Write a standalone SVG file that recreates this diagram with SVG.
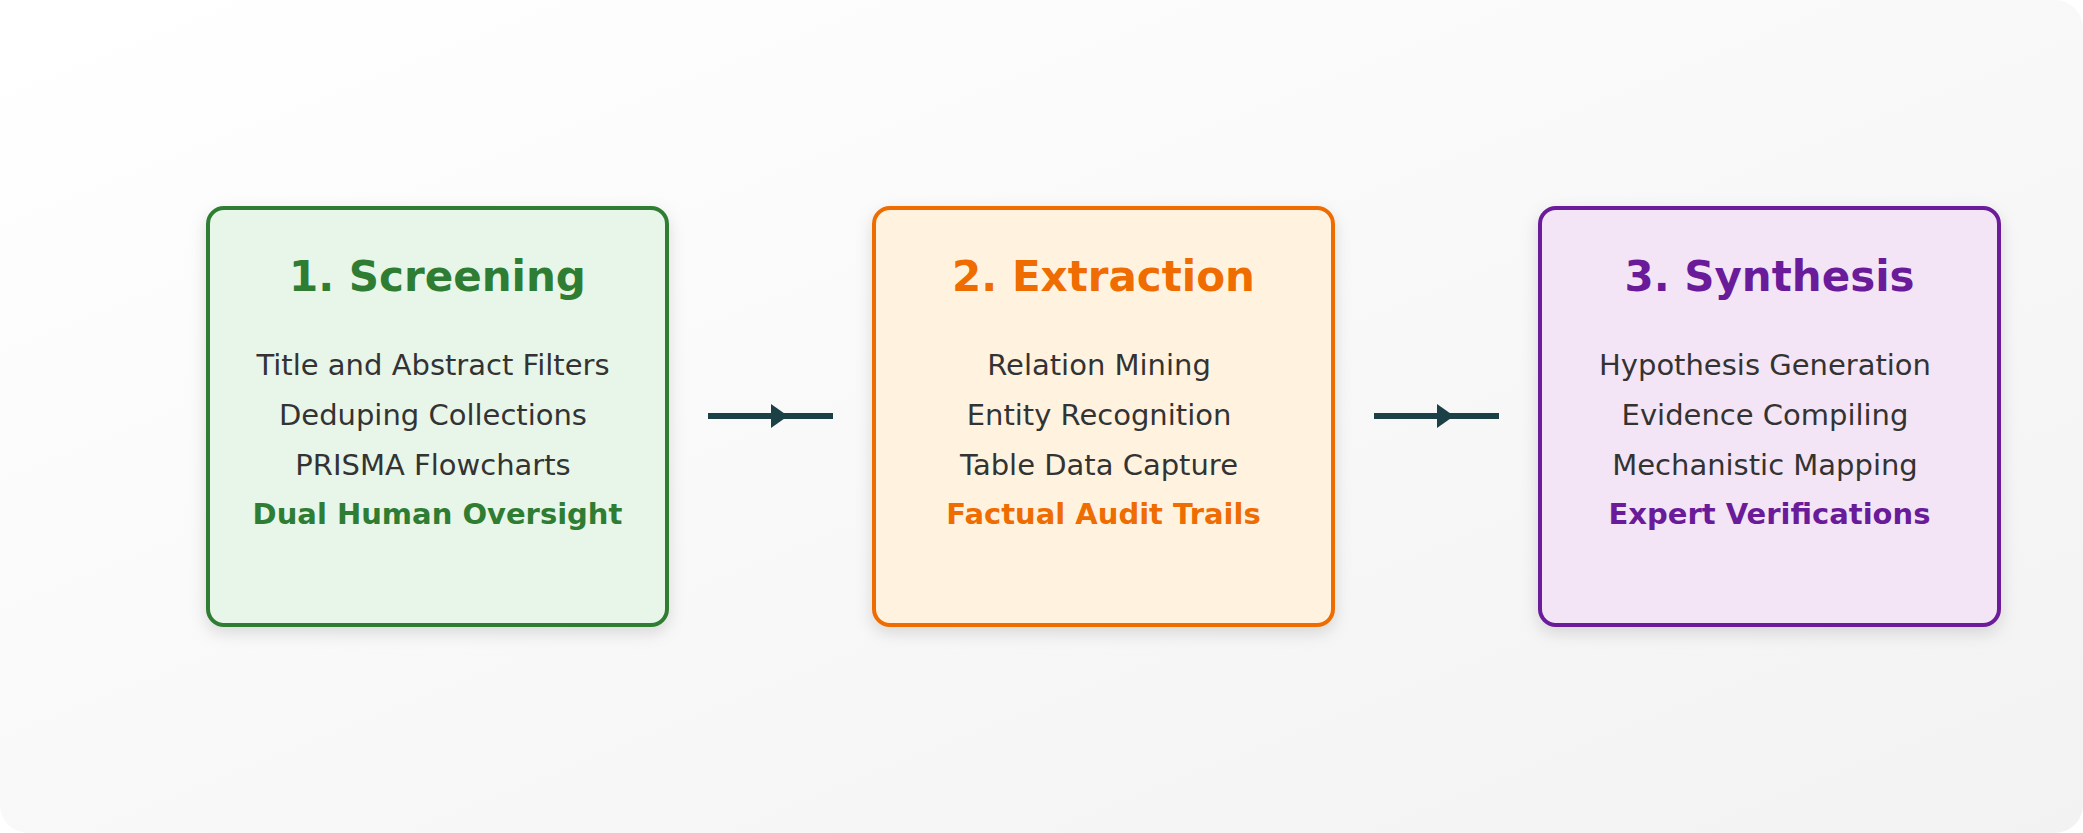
<svg xmlns="http://www.w3.org/2000/svg" width="2083" height="833" viewBox="0 0 2083 833">
<style>
.box{stroke-width:4}
.title{font-family:"DejaVu Sans",Verdana,sans-serif;font-weight:bold;font-size:42px;text-anchor:middle}
.item{font-family:"DejaVu Sans",Verdana,sans-serif;font-size:29px;fill:#333333;text-anchor:middle}
.key{font-family:"DejaVu Sans",Verdana,sans-serif;font-weight:bold;font-size:29px;text-anchor:middle}
.conn{stroke:#1b4045;stroke-width:6;fill:none;marker-mid:url(#arrow)}
</style>
<defs>
<linearGradient id="bg" x1="0" y1="0" x2="1" y2="1">
<stop offset="0" stop-color="#ffffff"/>
<stop offset="1" stop-color="#f2f2f2"/>
</linearGradient>
<filter id="shadow" x="-20%" y="-20%" width="140%" height="150%">
<feDropShadow dx="0" dy="6" stdDeviation="8" flood-color="#000" flood-opacity="0.13"/>
</filter>
<marker id="arrow" markerUnits="userSpaceOnUse" markerWidth="20" markerHeight="28" refX="0" refY="12" orient="auto" viewBox="0 0 20 24">
<path d="M0,0 L17,12 L0,24 Z" fill="#1b4045"/>
</marker>
</defs>
<rect x="0" y="0" width="2083" height="833" fill="#ffffff"/>
<rect x="0" y="0" width="2083" height="833" rx="28" ry="28" fill="url(#bg)"/>

<g id="connectors">
<path class="conn" d="M708,416 L771,416 L833,416"/>
<path class="conn" d="M1374,416 L1437,416 L1499,416"/>
</g>

<g id="node-screening">
<rect class="box" x="208" y="208" width="459" height="417" rx="16" ry="16" fill="#e8f5e9" stroke="#2e7d32" filter="url(#shadow)"/>
<text class="title" x="437.5" y="291" fill="#2e7d32">1. Screening</text>
<text class="item" x="433" y="375">Title and Abstract Filters</text>
<text class="item" x="433" y="425">Deduping Collections</text>
<text class="item" x="433" y="475">PRISMA Flowcharts</text>
<text class="key" x="437.5" y="524" fill="#2e7d32">Dual Human Oversight</text>
</g>

<g id="node-extraction">
<rect class="box" x="874" y="208" width="459" height="417" rx="16" ry="16" fill="#fff3e0" stroke="#ef6c00" filter="url(#shadow)"/>
<text class="title" x="1103.5" y="291" fill="#ef6c00">2. Extraction</text>
<text class="item" x="1099" y="375">Relation Mining</text>
<text class="item" x="1099" y="425">Entity Recognition</text>
<text class="item" x="1099" y="475">Table Data Capture</text>
<text class="key" x="1103.5" y="524" fill="#ef6c00">Factual Audit Trails</text>
</g>

<g id="node-synthesis">
<rect class="box" x="1540" y="208" width="459" height="417" rx="16" ry="16" fill="#f3e5f5" stroke="#6a1b9a" filter="url(#shadow)"/>
<text class="title" x="1769.5" y="291" fill="#6a1b9a">3. Synthesis</text>
<text class="item" x="1765" y="375">Hypothesis Generation</text>
<text class="item" x="1765" y="425">Evidence Compiling</text>
<text class="item" x="1765" y="475">Mechanistic Mapping</text>
<text class="key" x="1769.5" y="524" fill="#6a1b9a">Expert Verifications</text>
</g>
</svg>
